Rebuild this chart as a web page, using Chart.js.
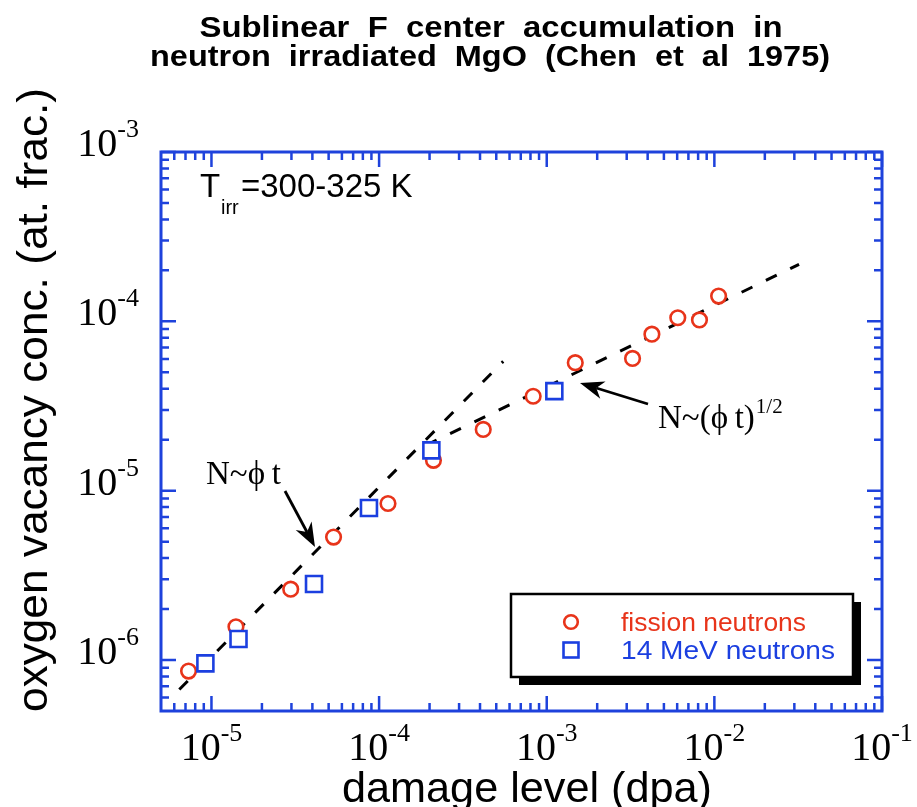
<!DOCTYPE html>
<html>
<head>
<meta charset="utf-8">
<title>Sublinear F center accumulation in neutron irradiated MgO</title>
<script src="https://cdn.jsdelivr.net/npm/chart.js@4.4.1/dist/chart.umd.min.js"></script>
<style>
    html, body { margin: 0; padding: 0; background: #fff; }
    canvas { display: block; }
</style>
</head>
<body>
<canvas id="chart" width="917" height="807"></canvas>
<script>
// data (dpa, atomic fraction)
const fissionDpa = [7.3e-6, 1.40e-5, 2.97e-5, 5.35e-5, 1.13e-4, 2.11e-4, 4.18e-4, 8.3e-4, 1.48e-3, 3.25e-3, 4.24e-3, 6.05e-3, 8.15e-3, 1.06e-2];
const fissionConc = [8.6e-7, 1.57e-6, 2.62e-6, 5.32e-6, 8.4e-6, 1.51e-5, 2.30e-5, 3.61e-5, 5.7e-5, 6.04e-5, 8.4e-5, 1.05e-4, 1.02e-4, 1.41e-4];

const mev14Dpa = [9.2e-6, 1.45e-5, 4.09e-5, 8.7e-5, 2.05e-4, 1.11e-3];
const mev14Conc = [9.55e-7, 1.33e-6, 2.81e-6, 7.9e-6, 1.73e-5, 3.87e-5];

// guide lines N ~ phi t and N ~ (phi t)^1/2
const linearDpa = [6.43e-6, 5.5e-4];
const linearConc = [6.7e-7, 5.8e-5];
const sqrtDpa = [1.9e-4, 3.2e-2];
const sqrtConc = [1.85e-5, 2.17e-4];

const xMajorTicks = [1e-5, 1e-4, 1e-3, 1e-2, 1e-1];
const xTickLabels = ['-5', '-4', '-3', '-2', '-1'];
const yMajorTicks = [1e-6, 1e-5, 1e-4, 1e-3];
const yTickLabels = ['-6', '-5', '-4', '-3'];

const seriesNames = ['fission neutrons', '14 MeV neutrons'];

const RED = '#e8341a';
const BLUE = '#1b3fe0';
const FRAME = '#1e42dc';

const SANS = '"Liberation Sans", Arial, sans-serif';
const SERIF = '"Liberation Serif", "Times New Roman", serif';

const toPoints = (xs, ys) => xs.map((x, i) => ({x: x, y: ys[i]}));

// minor ticks 2..9 of each decade inside the axis range
function minorTicks(min, max) {
    let ticks = [];
    for (let e = Math.floor(Math.log10(min)); e <= Math.ceil(Math.log10(max)); e++) {
        for (let m = 2; m <= 9; m++) {
            let v = m * Math.pow(10, e);
            if (v > min * 1.0001 && v < max * 0.9999) ticks.push(v);
        }
    }
    return ticks;
}

// text stretched horizontally to a given width, centred on cx
function drawStretched(ctx, text, cx, y, width) {
    let natural = ctx.measureText(text).width;
    ctx.save();
    ctx.translate(cx - width / 2, y);
    ctx.scale(width / natural, 1);
    ctx.textAlign = 'left';
    ctx.fillText(text, 0, 0);
    ctx.restore();
}

const framePlugin = {
    id: 'frame',
    beforeDatasetsDraw(chart) {
        const ctx = chart.ctx;
        const area = chart.chartArea;
        const xs = chart.scales.x;
        const ys = chart.scales.y;
        ctx.save();
        ctx.strokeStyle = FRAME;
        ctx.lineWidth = 2.5;
        ctx.beginPath();
        const tick = (v, len, horizontal) => {
            if (horizontal) {
                let px = xs.getPixelForValue(v);
                ctx.moveTo(px, area.bottom); ctx.lineTo(px, area.bottom - len);
                ctx.moveTo(px, area.top); ctx.lineTo(px, area.top + len);
            } else {
                let py = ys.getPixelForValue(v);
                ctx.moveTo(area.left, py); ctx.lineTo(area.left + len, py);
                ctx.moveTo(area.right, py); ctx.lineTo(area.right - len, py);
            }
        };
        xMajorTicks.forEach(v => tick(v, 15, true));
        minorTicks(xs.min, xs.max).forEach(v => tick(v, 8, true));
        yMajorTicks.forEach(v => tick(v, 15, false));
        minorTicks(ys.min, ys.max).forEach(v => tick(v, 8, false));
        ctx.stroke();
        ctx.lineWidth = 3;
        ctx.strokeRect(area.left, area.top, area.right - area.left, area.bottom - area.top);

        // tick labels, 10 with superscript exponent
        ctx.fillStyle = '#000';
        ctx.textAlign = 'left';
        const big = '40px ' + SERIF;
        const small = '26px ' + SERIF;
        xMajorTicks.forEach((v, i) => {
            ctx.font = big;
            let w10 = ctx.measureText('10').width;
            ctx.font = small;
            let we = ctx.measureText(xTickLabels[i]).width;
            let x0 = xs.getPixelForValue(v) - (w10 + we) / 2;
            ctx.font = big;
            ctx.fillText('10', x0, 760);
            ctx.font = small;
            ctx.fillText(xTickLabels[i], x0 + w10, 741);
        });
        yMajorTicks.forEach((v, i) => {
            let py = ys.getPixelForValue(v);
            ctx.font = big;
            let w10 = ctx.measureText('10').width;
            ctx.font = small;
            let we = ctx.measureText(yTickLabels[i]).width;
            let x0 = 139 - (w10 + we);
            ctx.font = big;
            ctx.fillText('10', x0, py + 4);
            ctx.font = small;
            ctx.fillText(yTickLabels[i], x0 + w10, py - 15);
        });
        ctx.restore();
    },
    afterDraw(chart) {
        const ctx = chart.ctx;
        ctx.save();
        ctx.fillStyle = '#000';

        // title
        ctx.font = 'bold 29px ' + SANS;
        ctx.textBaseline = 'alphabetic';
        drawStretched(ctx, 'Sublinear  F  center  accumulation  in', 491, 37, 583);
        drawStretched(ctx, 'neutron  irradiated  MgO  (Chen  et  al  1975)', 490, 66, 680);

        // axis titles
        ctx.font = '42px ' + SANS;
        drawStretched(ctx, 'damage level (dpa)', 527, 802, 370);
        ctx.save();
        ctx.translate(47, 400);
        ctx.rotate(-Math.PI / 2);
        drawStretched(ctx, 'oxygen vacancy conc. (at. frac.)', 0, 0, 624);
        ctx.restore();

        // irradiation temperature
        ctx.textAlign = 'left';
        ctx.font = '33px ' + SANS;
        ctx.fillText('T', 200, 197);
        ctx.font = '20px ' + SANS;
        ctx.fillText('irr', 221, 214);
        ctx.font = '33px ' + SANS;
        ctx.fillText('=300-325 K', 241, 197);

        // annotations with arrows
        ctx.font = '33px ' + SERIF;
        ctx.fillText('N~\u03d5\u2009t', 206, 484);
        ctx.fillText('N~(\u03d5\u2009t)', 658, 428);
        let w = ctx.measureText('N~(\u03d5\u2009t)').width;
        ctx.font = '21px ' + SERIF;
        ctx.fillText('1/2', 658 + w + 1, 413);

        const arrow = (x0, y0, x1, y1) => {
            let a = Math.atan2(y1 - y0, x1 - x0);
            let hl = 24, hw = 9, notch = 7;
            let bx = x1 - hl * Math.cos(a), by = y1 - hl * Math.sin(a);
            ctx.strokeStyle = '#000';
            ctx.lineWidth = 2.8;
            ctx.beginPath();
            ctx.moveTo(x0, y0);
            ctx.lineTo(bx + notch * Math.cos(a), by + notch * Math.sin(a));
            ctx.stroke();
            ctx.beginPath();
            ctx.moveTo(x1, y1);
            ctx.lineTo(bx - hw * Math.sin(a), by + hw * Math.cos(a));
            ctx.lineTo(bx + notch * Math.cos(a), by + notch * Math.sin(a));
            ctx.lineTo(bx + hw * Math.sin(a), by - hw * Math.cos(a));
            ctx.closePath();
            ctx.fill();
        };
        arrow(285, 491, 315, 547);
        arrow(648, 404, 580, 383);

        // legend box with drop shadow
        let lx = 511, ly = 594, lw = 342, lh = 83;
        ctx.fillStyle = '#000';
        ctx.fillRect(lx + 8, ly + 8, lw, lh);
        ctx.fillStyle = '#fff';
        ctx.fillRect(lx, ly, lw, lh);
        ctx.strokeStyle = '#000';
        ctx.lineWidth = 2.5;
        ctx.strokeRect(lx, ly, lw, lh);

        const ds = chart.data.datasets;
        ctx.lineWidth = ds[0].borderWidth;
        ctx.strokeStyle = ds[0].borderColor;
        ctx.beginPath();
        ctx.arc(571, 622, ds[0].pointRadius - 0.5, 0, Math.PI * 2);
        ctx.stroke();
        ctx.strokeStyle = ds[1].borderColor;
        let s = ds[1].pointRadius * Math.SQRT1_2 - 0.5;
        ctx.strokeRect(571 - s, 650 - s, 2 * s, 2 * s);

        ctx.font = '26px ' + SANS;
        ctx.fillStyle = ds[0].borderColor;
        drawStretched(ctx, seriesNames[0], 621 + 185 / 2, 631, 185);
        ctx.fillStyle = ds[1].borderColor;
        drawStretched(ctx, seriesNames[1], 621 + 214 / 2, 659, 214);
        ctx.restore();
    }
};

const config = {
    type: 'scatter',
    data: {
        datasets: [
            {
                label: seriesNames[0],
                data: toPoints(fissionDpa, fissionConc),
                pointStyle: 'circle',
                pointRadius: 7.3,
                pointHoverRadius: 7.3,
                borderWidth: 2.6,
                borderColor: RED,
                backgroundColor: '#fff',
                order: 1
            },
            {
                label: seriesNames[1],
                data: toPoints(mev14Dpa, mev14Conc),
                pointStyle: 'rect',
                pointRadius: 11.3,
                pointHoverRadius: 11.3,
                borderWidth: 2.6,
                borderColor: BLUE,
                backgroundColor: '#fff',
                order: 0
            },
            {
                label: 'N~phi t',
                data: toPoints(linearDpa, linearConc),
                showLine: true,
                pointRadius: 0,
                borderColor: '#000',
                borderWidth: 3,
                borderDash: [12, 15],
                fill: false,
                order: 2
            },
            {
                label: 'N~(phi t)^1/2',
                data: toPoints(sqrtDpa, sqrtConc),
                showLine: true,
                pointRadius: 0,
                borderColor: '#000',
                borderWidth: 3,
                borderDash: [12, 15],
                fill: false,
                order: 3
            }
        ]
    },
    options: {
        responsive: false,
        animation: false,
        layout: {
            padding: {left: 161, right: 35, top: 152, bottom: 96}
        },
        plugins: {
            legend: {display: false},
            title: {display: false},
            tooltip: {enabled: false}
        },
        scales: {
            x: {
                type: 'logarithmic',
                display: false,
                min: 5e-6,
                max: 1e-1
            },
            y: {
                type: 'logarithmic',
                display: false,
                min: 5e-7,
                max: 1e-3
            }
        }
    },
    plugins: [framePlugin]
};

new Chart(document.getElementById('chart'), config);
</script>
</body>
</html>
